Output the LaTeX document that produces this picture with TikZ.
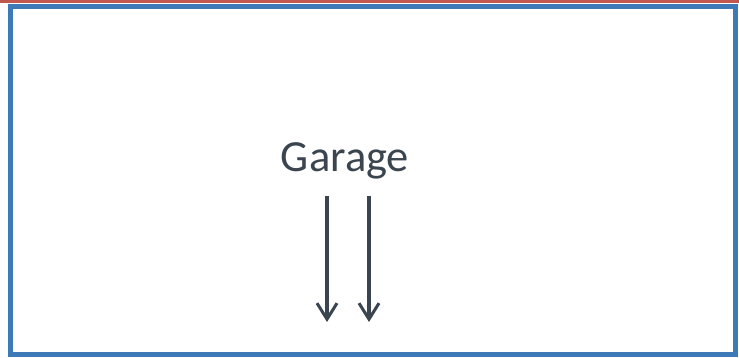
\documentclass[tikz,border=0pt]{standalone}
\usepackage{fontspec}
\setmainfont{Carlito}
\usetikzlibrary{arrows.meta}
\definecolor{framblue}{HTML}{3F7AB8}
\definecolor{stripred}{HTML}{C0584E}
\definecolor{arrowgray}{HTML}{3B4550}
\tikzset{
  flowarrow/.style={draw=arrowgray, line width=3.2pt, -{Straight Barb[length=16pt,width=20pt,line width=3pt]}},
}
\begin{document}
\begin{tikzpicture}[x=1pt,y=-1pt]
\useasboundingbox (0,0) rectangle (739,358);
\fill[white] (0,0) rectangle (739,358);
\fill[stripred] (0,0) rectangle (739,3.5);
\draw[framblue, line width=5pt] (10,6.5) rectangle (735,354.5);
\node[font=\fontsize{44.5}{52}\selectfont, text=arrowgray, anchor=base] (garage) at (345,172) {Garage};
\coordinate (a1s) at (327,196);
\coordinate (a1e) at (327,322);
\coordinate (a2s) at (369,196);
\coordinate (a2e) at (369,322);
\draw[flowarrow] (a1s) -- (a1e);
\draw[flowarrow] (a2s) -- (a2e);
\end{tikzpicture}
\end{document}
